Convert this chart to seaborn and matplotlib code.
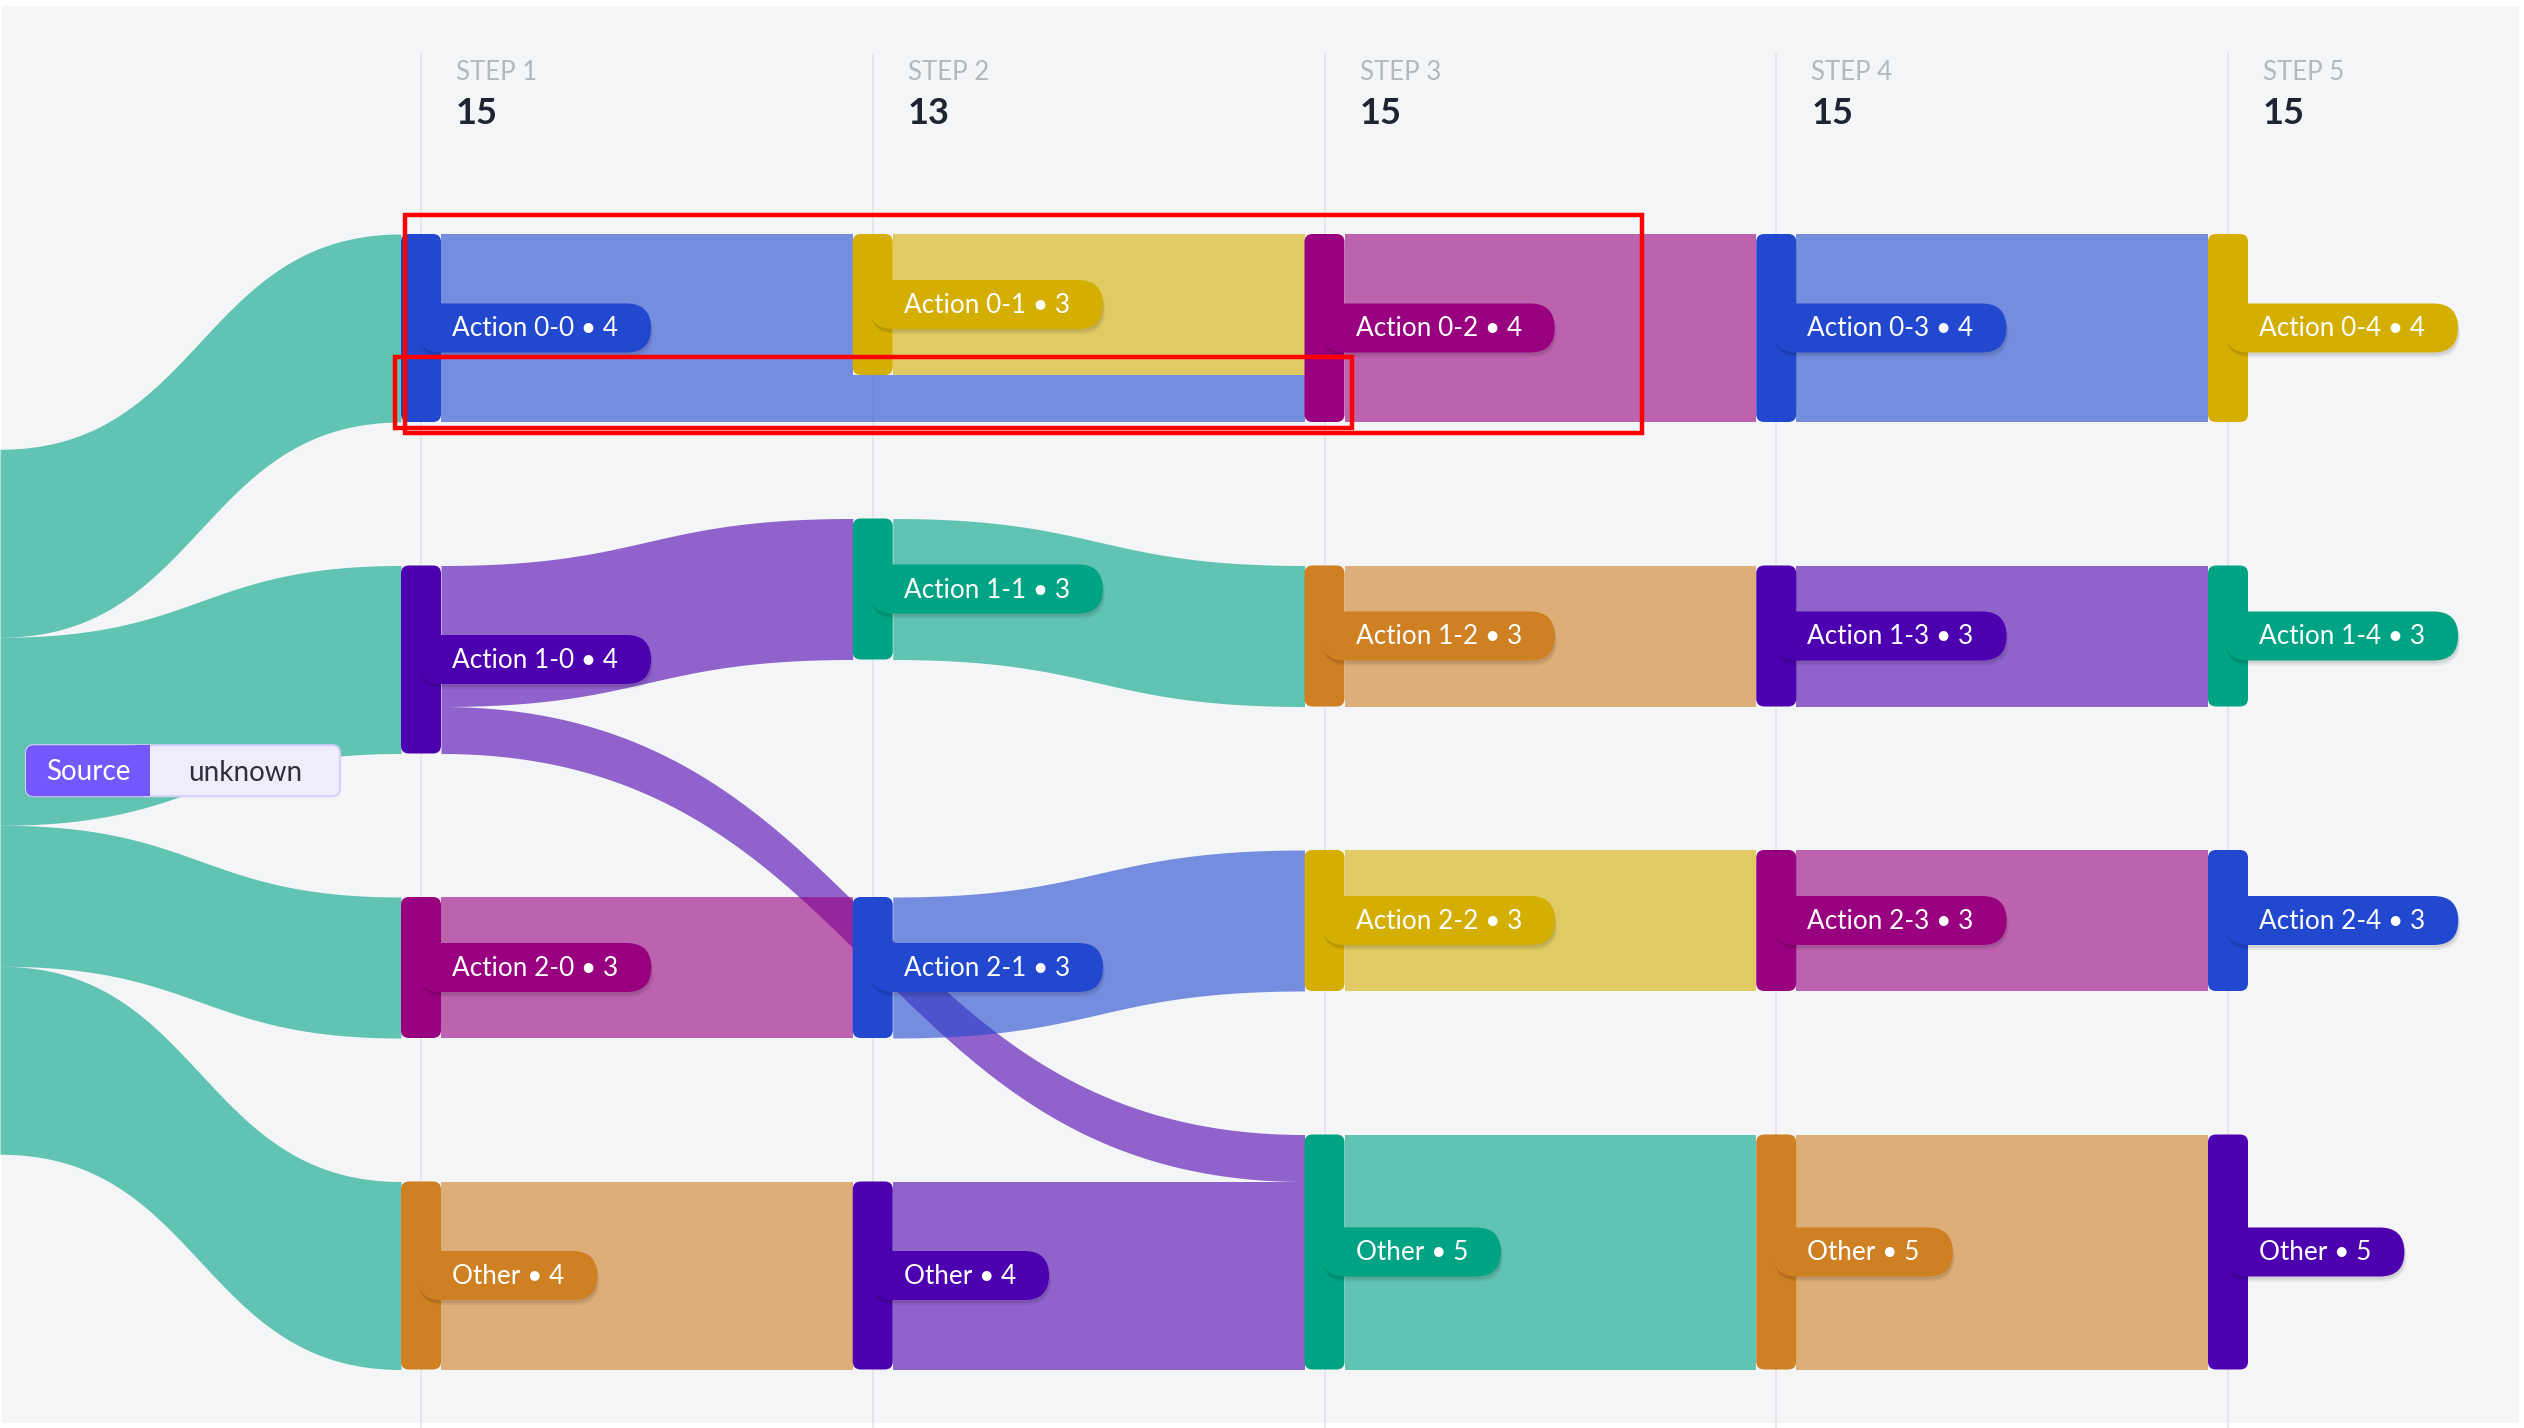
import numpy as np
import matplotlib
matplotlib.use("Agg")
import matplotlib.pyplot as plt
from matplotlib.patches import FancyBboxPatch, Rectangle
import seaborn as sns

sns.set_theme(style="white")
plt.rcParams['font.family'] = ['Lato', 'DejaVu Sans']

# ---------------- data ----------------
step_labels = ["STEP 1", "STEP 2", "STEP 3", "STEP 4", "STEP 5"]
node_names = [
    ["Action 0-0", "Action 1-0", "Action 2-0", "Other"],
    ["Action 0-1", "Action 1-1", "Action 2-1", "Other"],
    ["Action 0-2", "Action 1-2", "Action 2-2", "Other"],
    ["Action 0-3", "Action 1-3", "Action 2-3", "Other"],
    ["Action 0-4", "Action 1-4", "Action 2-4", "Other"],
]
node_values = [
    [4, 4, 3, 4],
    [3, 3, 3, 4],
    [4, 3, 3, 5],
    [4, 3, 3, 5],
    [4, 3, 3, 5],
]
node_colors = [
    ["blue", "indigo", "magenta", "orange"],
    ["gold", "teal", "blue", "indigo"],
    ["magenta", "orange", "gold", "teal"],
    ["blue", "indigo", "magenta", "orange"],
    ["gold", "teal", "blue", "indigo"],
]
source_name = "Source"
source_value = "unknown"
source_color = "teal"

# flows: (source step, source row, target step, target row, value); step 0 = Source
flow_src_step = [0, 0, 0, 0, 1, 1, 1, 1, 1, 1, 2, 2, 2, 2, 3, 3, 3, 3, 4, 4, 4, 4]
flow_src_row  = [0, 0, 0, 0, 0, 0, 1, 1, 2, 3, 0, 1, 2, 3, 0, 1, 2, 3, 0, 1, 2, 3]
flow_dst_step = [1, 1, 1, 1, 2, 3, 2, 3, 2, 2, 3, 3, 3, 3, 4, 4, 4, 4, 5, 5, 5, 5]
flow_dst_row  = [0, 1, 2, 3, 0, 0, 1, 3, 2, 3, 0, 1, 2, 3, 0, 1, 2, 3, 0, 1, 2, 3]
flow_value    = [4, 4, 3, 4, 3, 1, 3, 1, 3, 4, 3, 3, 3, 4, 4, 3, 3, 5, 4, 3, 3, 5]

palette_names = ["blue", "gold", "magenta", "indigo", "teal", "orange"]
palette = dict(zip(palette_names, sns.color_palette(
    ["#2148cf", "#d4ae00", "#990080", "#4c00b0", "#00a383", "#cf8022"])))

# ---------------- layout ----------------
W, H = 2524, 1428
BG = "#f4f5f7"
fig = plt.figure(figsize=(W / 100, H / 100), dpi=100)
fig.patch.set_facecolor("white")
ax = fig.add_axes([0, 0, 1, 1])
ax.set_xlim(0, W)
ax.set_ylim(H, 0)
ax.axis("off")
ax.add_patch(Rectangle((2, 6), W - 7, H - 11, fc=BG, ec="none", zorder=0))

STEP_X0, STEP_DX = 421, 451.75
TOP, UNIT, GAP, BAR_W = 234, 47, 143.5, 40
n_steps = len(node_values)
col_x = [STEP_X0 + i * STEP_DX for i in range(n_steps)]
max_total = max(sum(v) for v in node_values)
n_rows = len(node_values[0])
col_h = max_total * UNIT + (n_rows - 1) * GAP
BOTTOM = TOP + col_h

# node vertical positions: upper half stacked from top, lower half from bottom
node_y0 = {}
for s in range(n_steps):
    vals = node_values[s]
    half = len(vals) // 2
    y = TOP
    for r in range(half):
        node_y0[(s + 1, r)] = y
        y += vals[r] * UNIT + GAP
    y = BOTTOM
    for r in range(len(vals) - 1, half - 1, -1):
        y -= vals[r] * UNIT
        node_y0[(s + 1, r)] = y
        y -= GAP
src_total = sum(v for v, ss in zip(flow_value, flow_src_step) if ss == 0)
node_y0[(0, 0)] = TOP + (col_h - src_total * UNIT) / 2


def node_x(step):
    return 0 if step == 0 else col_x[step - 1]


# link offsets within nodes
flows = list(zip(flow_src_step, flow_src_row, flow_dst_step, flow_dst_row, flow_value))
out_off, in_off = {}, {}
nodes_all = set((f[0], f[1]) for f in flows) | set((f[2], f[3]) for f in flows)
for nd in nodes_all:
    outs = [i for i, f in enumerate(flows) if (f[0], f[1]) == nd]
    outs.sort(key=lambda i: (node_y0[(flows[i][2], flows[i][3])], flows[i][2]))
    y = node_y0[nd]
    for i in outs:
        out_off[i] = y
        y += flows[i][4] * UNIT
    ins = [i for i, f in enumerate(flows) if (f[2], f[3]) == nd]
    ins.sort(key=lambda i: (node_y0[(flows[i][0], flows[i][1])], -flows[i][0]))
    y = node_y0[nd]
    for i in ins:
        in_off[i] = y
        y += flows[i][4] * UNIT

# vertical step lines
for cx in col_x:
    ax.plot([cx, cx], [53, H], color="#dfe1e6", lw=1.1, zorder=1, solid_capstyle="butt")

# links
t = np.linspace(0, 1, 300)
xs_t = 1.5 * t * (1 - t) + t ** 3
ys_t = 3 * t ** 2 - 2 * t ** 3
for i, (ss, sr, ds, dr, v) in enumerate(flows):
    x0 = 0 if ss == 0 else node_x(ss) + BAR_W / 2
    x1 = node_x(ds) - BAR_W / 2
    ya, yb = out_off[i], in_off[i]
    xx = x0 + (x1 - x0) * xs_t
    yy = ya + (yb - ya) * ys_t
    col = palette[source_color] if ss == 0 else palette[node_colors[ss - 1][sr]]
    ax.fill_between(xx, yy, yy + v * UNIT, color=col, alpha=0.6, lw=0, zorder=2)

# nodes, labels
renderer = fig.canvas.get_renderer()
PILL_H = 49
for s in range(n_steps):
    cx = col_x[s]
    for r, (name, val) in enumerate(zip(node_names[s], node_values[s])):
        y0 = node_y0[(s + 1, r)]
        h = val * UNIT
        col = palette[node_colors[s][r]]
        ax.add_patch(FancyBboxPatch((cx - BAR_W / 2, y0), BAR_W, h,
                                    boxstyle="round,pad=0,rounding_size=8",
                                    fc=col, ec="none", zorder=4))
        yc = y0 + h / 2
        txt = ax.text(cx + 31, yc + 1, f"{name} \u2022 {val}", color="white",
                      fontsize=18.8, va="center", ha="left", zorder=7)
        tw = txt.get_window_extent(renderer=renderer).width
        px0 = cx - 4
        pw = 31 + 4 + tw + 33
        for k, (dx, dy, a) in enumerate([(2, 5, 0.06), (1, 3, 0.08)]):
            ax.add_patch(FancyBboxPatch((px0 + dx, yc - PILL_H / 2 + dy), pw, PILL_H,
                                        boxstyle="round,pad=0,rounding_size=24.5",
                                        fc="black", alpha=a, ec="none", zorder=5))
        ax.add_patch(FancyBboxPatch((px0, yc - PILL_H / 2), pw, PILL_H,
                                    boxstyle="round,pad=0,rounding_size=24.5",
                                    fc=col, ec="none", zorder=6))

# step headers
for s in range(n_steps):
    cx = col_x[s]
    ax.text(cx + 35, 80, step_labels[s], color="#b3b7be", fontsize=18.5, va="baseline",
            ha="left", zorder=3)
    ax.text(cx + 35, 124, str(sum(node_values[s])), color="#1e2431", fontsize=26,
            weight="bold", va="baseline", ha="left", zorder=3)

# source label
sy = node_y0[(0, 0)] + src_total * UNIT / 2 - 31
LH = 51
ax.add_patch(FancyBboxPatch((26, sy - LH / 2), 314, LH,
                            boxstyle="round,pad=0,rounding_size=8",
                            fc="#efedfb", ec="#d6d0f8", lw=1.5, zorder=8))
ax.add_patch(FancyBboxPatch((26, sy - LH / 2), 124, LH,
                            boxstyle="round,pad=0,rounding_size=8",
                            fc="#7557fe", ec="none", zorder=9))
ax.add_patch(Rectangle((135, sy - LH / 2), 15, LH, fc="#7557fe", ec="none", zorder=9))
ax.text(88, sy + 1, source_name, color="white", fontsize=20, ha="center", va="center", zorder=10)
ax.text(245, sy + 2, source_value, color="#2f2f3c", fontsize=20, ha="center", va="center", zorder=10)

# red annotation boxes
r0_top = node_y0[(1, 0)]
r0_bot = r0_top + node_values[0][0] * UNIT
ax.add_patch(Rectangle((col_x[0] - 16, r0_top - 19), 1642 - (col_x[0] - 16), (r0_bot + 11) - (r0_top - 19),
                       fill=False, ec="#ff0000", lw=3.2, zorder=12))
ax.add_patch(Rectangle((col_x[0] - 26, r0_top + 123), (col_x[2] + 27) - (col_x[0] - 26), 71,
                       fill=False, ec="#ff0000", lw=3.2, zorder=12))

fig.savefig("out.png", dpi=100, facecolor="white")
